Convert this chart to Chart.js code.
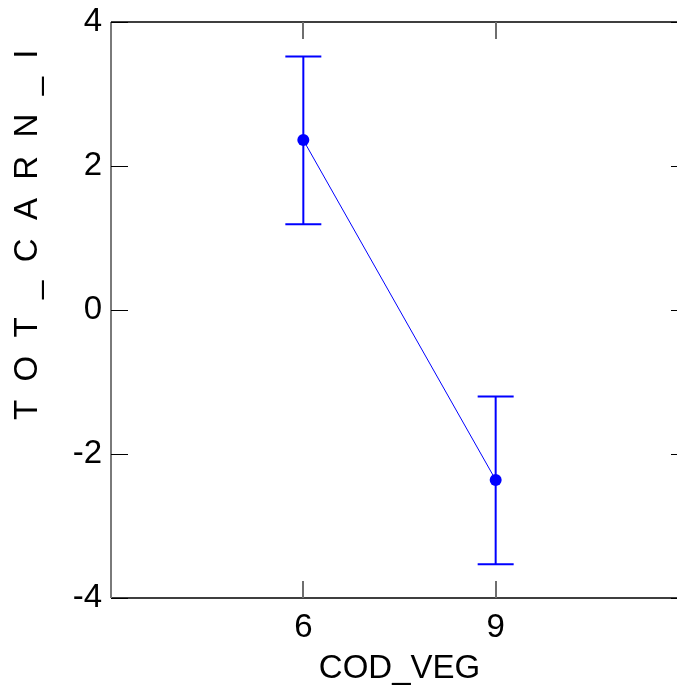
<!DOCTYPE html>
<html>
<head>
<meta charset="utf-8">
<title>TOT_CARN_I by COD_VEG</title>
<script src="https://cdn.jsdelivr.net/npm/chart.js@4.4.1/dist/chart.umd.min.js"></script>
<style>
    html, body { margin: 0; padding: 0; background: #fff; }
    /* the plot frame runs past the right edge of the picture, so the canvas is cropped */
    #wrap { width: 677px; height: 691px; overflow: hidden; position: relative; }
    #meansChart { display: block; }
</style>
</head>
<body>
<div id="wrap">
    <canvas id="meansChart" width="694" height="691"></canvas>
</div>
<script>
// Data
const codVeg = [6, 9];            // categories (x)
const meanValues = [2.36, -2.36];  // group means
const lowerValues = [1.19, -3.53]; // lower error bar
const upperValues = [3.52, -1.20]; // upper error bar
const xTickValues = [6, 9];
const yTickValues = [-4, -2, 0, 2, 4];

(function () {
    'use strict';

    const FONT = '"Liberation Sans", Arial, Helvetica, sans-serif';
    const BLUE = '#0000ff';
    const TICK_LEN = 17;

    // Frame plus inward tick marks on all four sides
    const frameTicks = {
        id: 'frameTicks',
        afterDraw(chart) {
            const { ctx, chartArea: a, scales } = chart;
            ctx.save();
            ctx.lineWidth = 1.5;

            // frame
            ctx.strokeStyle = '#000';
            ctx.beginPath();
            ctx.moveTo(a.left, a.top); ctx.lineTo(a.right, a.top);
            ctx.moveTo(a.left, a.bottom); ctx.lineTo(a.right, a.bottom);
            ctx.moveTo(a.right, a.top); ctx.lineTo(a.right, a.bottom);
            ctx.stroke();
            ctx.strokeStyle = '#7a7a7a';
            ctx.lineWidth = 2;
            ctx.beginPath();
            ctx.moveTo(a.left, a.top); ctx.lineTo(a.left, a.bottom);
            ctx.stroke();

            // y ticks (left and right)
            ctx.strokeStyle = '#000';
            ctx.lineWidth = 1.2;
            ctx.beginPath();
            yTickValues.forEach(v => {
                const py = Math.round(scales.y.getPixelForValue(v)) + 0.5;
                ctx.moveTo(a.left, py); ctx.lineTo(a.left + TICK_LEN, py);
                ctx.moveTo(a.right - TICK_LEN, py); ctx.lineTo(a.right, py);
            });
            ctx.stroke();

            // x ticks (top and bottom)
            ctx.strokeStyle = '#6e6e6e';
            ctx.lineWidth = 2;
            ctx.beginPath();
            xTickValues.forEach(v => {
                const px = Math.round(scales.x.getPixelForValue(v));
                ctx.moveTo(px, a.top); ctx.lineTo(px, a.top + TICK_LEN);
                ctx.moveTo(px, a.bottom - TICK_LEN); ctx.lineTo(px, a.bottom);
            });
            ctx.stroke();
            ctx.restore();
        }
    };

    // Vertical error bars with caps, drawn under the points
    const errorBars = {
        id: 'errorBars',
        beforeDatasetsDraw(chart) {
            const { ctx, scales } = chart;
            ctx.save();
            ctx.strokeStyle = BLUE;
            ctx.lineWidth = 2;
            ctx.beginPath();
            codVeg.forEach((c, i) => {
                const px = scales.x.getPixelForValue(c);
                const lo = scales.y.getPixelForValue(lowerValues[i]);
                const hi = scales.y.getPixelForValue(upperValues[i]);
                ctx.moveTo(px, lo); ctx.lineTo(px, hi);
                ctx.moveTo(px - 18, lo); ctx.lineTo(px + 18, lo);
                ctx.moveTo(px - 18, hi); ctx.lineTo(px + 18, hi);
            });
            ctx.stroke();
            ctx.restore();
        }
    };

    function init() {
        const canvas = document.getElementById('meansChart');
        if (!canvas) {
            return;
        }

        new Chart(canvas.getContext('2d'), {
            type: 'line',
            data: {
                datasets: [{
                    label: 'TOT_CARN_I',
                    data: codVeg.map((c, i) => ({ x: c, y: meanValues[i] })),
                    borderColor: BLUE,
                    backgroundColor: BLUE,
                    borderWidth: 1,
                    pointRadius: 6,
                    pointBorderWidth: 0,
                    fill: false,
                    tension: 0
                }]
            },
            options: {
                responsive: false,
                devicePixelRatio: 1,
                animation: false,
                layout: { padding: { top: 22, right: 0, left: 0, bottom: 0 } },
                plugins: {
                    legend: { display: false },
                    tooltip: { enabled: false }
                },
                scales: {
                    x: {
                        type: 'linear',
                        min: 3,
                        max: 12,
                        afterBuildTicks: function (scale) {
                            scale.ticks = xTickValues.map(v => ({ value: v }));
                        },
                        afterFit: function (scale) {
                            scale.height = 93;
                            scale.paddingLeft = 0;
                            scale.paddingRight = 0;
                        },
                        grid: { display: false, drawTicks: false },
                        border: { display: false },
                        ticks: {
                            color: '#000',
                            padding: 10,
                            maxRotation: 0,
                            font: { family: FONT, size: 33 }
                        },
                        title: {
                            display: true,
                            text: 'COD_VEG',
                            color: '#000',
                            padding: { top: 0, bottom: 2 },
                            font: { family: FONT, size: 33 }
                        }
                    },
                    y: {
                        min: -4,
                        max: 4,
                        afterBuildTicks: function (scale) {
                            scale.ticks = yTickValues.map(v => ({ value: v }));
                        },
                        afterFit: function (scale) {
                            scale.width = 111;
                            scale.paddingTop = 0;
                            scale.paddingBottom = 0;
                        },
                        grid: { display: false, drawTicks: false },
                        border: { display: false },
                        ticks: {
                            color: '#000',
                            padding: 9,
                            font: { family: FONT, size: 33 }
                        },
                        title: {
                            display: true,
                            text: 'T  O  T  _  C  A  R  N  _  I   ',
                            align: 'end',
                            color: '#000',
                            padding: { top: 8, bottom: 0 },
                            font: { family: FONT, size: 33 }
                        }
                    }
                }
            },
            plugins: [errorBars, frameTicks]
        });
    }

    if (document.readyState === 'loading') {
        document.addEventListener('DOMContentLoaded', init);
    } else {
        init();
    }
})();
</script>
</body>
</html>
